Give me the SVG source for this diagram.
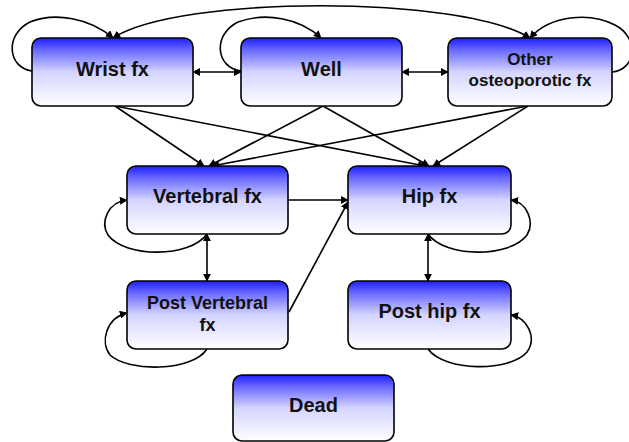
<svg xmlns="http://www.w3.org/2000/svg" width="629" height="442" viewBox="0 0 629 442">
<defs>
<linearGradient id="g" x1="0" y1="0" x2="0" y2="1">
<stop offset="0" stop-color="#1e1eff"/>
<stop offset="0.18" stop-color="#6a6aff"/>
<stop offset="0.5" stop-color="#d4d4ff"/>
<stop offset="1" stop-color="#ffffff"/>
</linearGradient>
<marker id="a" viewBox="0 0 10 10" refX="9" refY="5" markerWidth="8" markerHeight="8" markerUnits="userSpaceOnUse" orient="auto-start-reverse">
<path d="M0,0 L10,5 L0,10 z" fill="#000"/>
</marker>
</defs>
<style>
.box{fill:url(#g);stroke:#000;stroke-width:1.6}
.t{font-family:"Liberation Sans",Arial,sans-serif;font-weight:bold;font-size:20px;fill:#111;text-anchor:middle}
.s{font-size:17px}
.c{fill:none;stroke:#000;stroke-width:1.6}
</style>
<g id="connectors">
<path class="c" d="M193,72 L241,72" marker-start="url(#a)" marker-end="url(#a)"/>
<path class="c" d="M402,72 L448,72" marker-start="url(#a)" marker-end="url(#a)"/>
<path class="c" d="M113,38 C180,-5 460,-5 530,38" marker-start="url(#a)" marker-end="url(#a)"/>
<path class="c" d="M32,71 C8,68 4,35 30,22 C55,12 90,18 113,38" marker-end="url(#a)"/>
<path class="c" d="M241,71 C216,68 212,35 238,22 C265,12 300,18 321,38" marker-end="url(#a)"/>
<path class="c" d="M612,72 C636,70 640,38 615,25 C590,12 550,15 530,38" marker-end="url(#a)"/>
<path class="c" d="M115,106 L204,166" marker-end="url(#a)"/>
<path class="c" d="M115,106 L425,166" marker-end="url(#a)"/>
<path class="c" d="M323,106 L209,166" marker-end="url(#a)"/>
<path class="c" d="M323,106 L429,166" marker-end="url(#a)"/>
<path class="c" d="M528,106 L212,166" marker-end="url(#a)"/>
<path class="c" d="M528,106 L433,166" marker-end="url(#a)"/>
<path class="c" d="M288,200 L348,200" marker-end="url(#a)"/>
<path class="c" d="M289,312 L348,202" marker-end="url(#a)"/>
<path class="c" d="M207,234 L207,281" marker-start="url(#a)" marker-end="url(#a)"/>
<path class="c" d="M428,234 L428,281" marker-start="url(#a)" marker-end="url(#a)"/>
<path class="c" d="M207,234 C190,258 125,258 108,235 C100,222 108,202 127,200" marker-end="url(#a)"/>
<path class="c" d="M428,234 C445,258 510,258 527,235 C535,222 527,202 511,200" marker-end="url(#a)"/>
<path class="c" d="M207,349 C192,372 128,372 110,355 C100,342 106,318 127,313" marker-end="url(#a)"/>
<path class="c" d="M428,349 C445,372 510,372 527,352 C537,338 528,318 511,315" marker-end="url(#a)"/>
</g>
<g id="wrist"><rect class="box" x="32" y="38" width="161" height="68" rx="9"/><text class="t" x="112.5" y="76">Wrist fx</text></g>
<g id="well"><rect class="box" x="241" y="38" width="161" height="68" rx="9"/><text class="t" x="321.5" y="76">Well</text></g>
<g id="other"><rect class="box" x="448" y="38" width="164" height="68" rx="9"/><text class="t s" x="530" y="65">Other</text><text class="t s" x="530" y="86">osteoporotic fx</text></g>
<g id="vertebral"><rect class="box" x="127" y="166" width="161" height="68" rx="9"/><text class="t" x="207.5" y="203">Vertebral fx</text></g>
<g id="hip"><rect class="box" x="348" y="166" width="163" height="68" rx="9"/><text class="t" x="429.5" y="203">Hip fx</text></g>
<g id="postvertebral"><rect class="box" x="127" y="281" width="161" height="68" rx="9"/><text class="t" x="207.5" y="309" style="font-size:18px">Post Vertebral</text><text class="t" x="207.5" y="331" style="font-size:18px">fx</text></g>
<g id="posthip"><rect class="box" x="348" y="281" width="163" height="68" rx="9"/><text class="t" x="429.5" y="318">Post hip fx</text></g>
<g id="dead"><rect class="box" x="233" y="375" width="161" height="66" rx="9"/><text class="t" x="313.5" y="412">Dead</text></g>
</svg>
